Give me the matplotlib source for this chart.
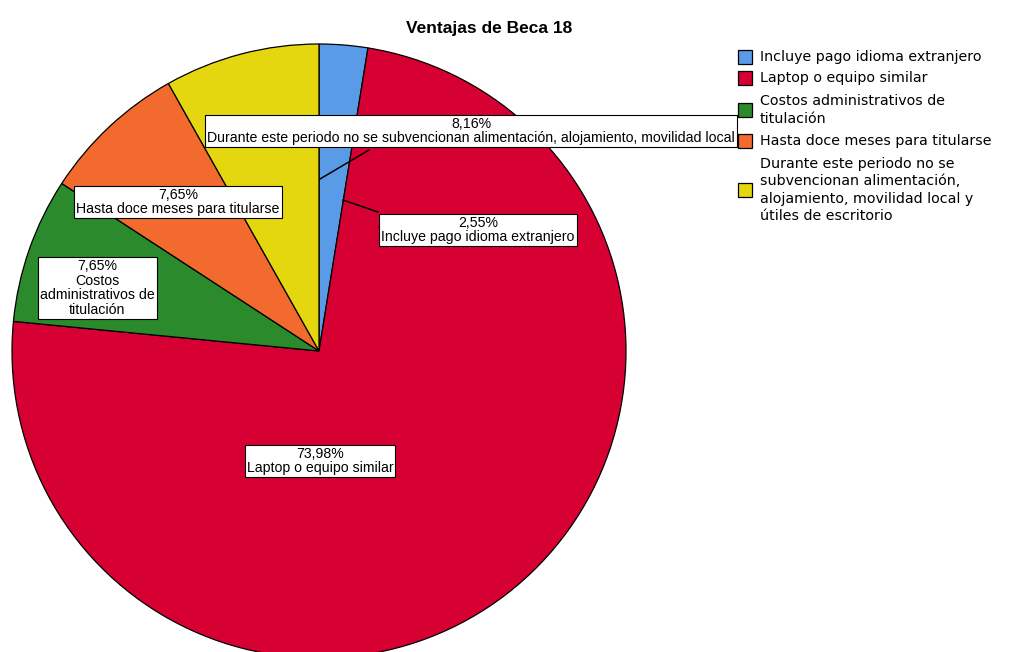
import numpy as np
import matplotlib.pyplot as plt
from matplotlib.patches import Rectangle

# ---------- data ----------
categories = [
    "Incluye pago idioma extranjero",
    "Laptop o equipo similar",
    "Costos administrativos de titulación",
    "Hasta doce meses para titularse",
    "Durante este periodo no se subvencionan alimentación, alojamiento, movilidad local y útiles de escritorio",
]
percentages = [2.55, 73.98, 7.65, 7.65, 8.16]
colors = ["#5A9BE8", "#D60032", "#2B8A2B", "#F26A2D", "#E4D70F"]

# text shown in the boxes on the pie
box_texts = [
    "2,55%\nIncluye pago idioma extranjero",
    "73,98%\nLaptop o equipo similar",
    "7,65%\nCostos\nadministrativos de\ntitulación",
    "7,65%\nHasta doce meses para titularse",
    "8,16%\nDurante este periodo no se subvencionan alimentación, alojamiento, movilidad local",
]
legend_texts = [
    "Incluye pago idioma extranjero",
    "Laptop o equipo similar",
    "Costos administrativos de\ntitulación",
    "Hasta doce meses para titularse",
    "Durante este periodo no se\nsubvencionan alimentación,\nalojamiento, movilidad local y\nútiles de escritorio",
]

# ---------- layout (pixels) ----------
W, H = 1012, 652
cx, cy, R = 319, 351, 307
box_centers = [(478, 230), (320, 461), (97, 288), (178, 202), (471, 131)]
leaders = {0: ((343, 200), (378, 212)), 4: ((320, 179), (369, 150))}
legend_y = [57, 78, 110, 141, 190]

def to_data(px, py):
    return (px - cx) / R, (cy - py) / R

fig = plt.figure(figsize=(W / 100, H / 100), dpi=100)
ax = fig.add_axes([(cx - R) / W, (H - cy - R) / H, 2 * R / W, 2 * R / H])
ax.pie(percentages, colors=colors, startangle=90, counterclock=False, radius=1,
       wedgeprops=dict(edgecolor="black", linewidth=0.9))
ax.set_xlim(-1, 1)
ax.set_ylim(-1, 1)
ax.axis("off")

for i, (start, end) in leaders.items():
    x0, y0 = to_data(*start)
    x1, y1 = to_data(*end)
    ax.plot([x0, x1], [y0, y1], color="black", linewidth=1.1)

for txt, (px, py) in zip(box_texts, box_centers):
    x, y = to_data(px, py)
    ax.text(x, y, txt, ha="center", va="center", fontsize=10.2, family="Liberation Sans",
            linespacing=1.05,
            bbox=dict(boxstyle="square,pad=0.15", facecolor="white", edgecolor="black", linewidth=0.8))

fig.text(489 / W, 1 - 28 / H, "Ventajas de Beca 18", ha="center", va="center",
         fontsize=12.5, fontweight="bold", family="Liberation Sans")

# ---------- legend ----------
for col, txt, ly in zip(colors, legend_texts, legend_y):
    fig.patches.append(Rectangle((738 / W, 1 - (ly + 7) / H), 14 / W, 14 / H,
                                 transform=fig.transFigure, facecolor=col,
                                 edgecolor="black", linewidth=0.9))
    fig.text(760 / W, 1 - ly / H, txt, ha="left", va="center", fontsize=10.3,
             family="DejaVu Sans", linespacing=1.3)

plt.savefig("out.png", dpi=100)
